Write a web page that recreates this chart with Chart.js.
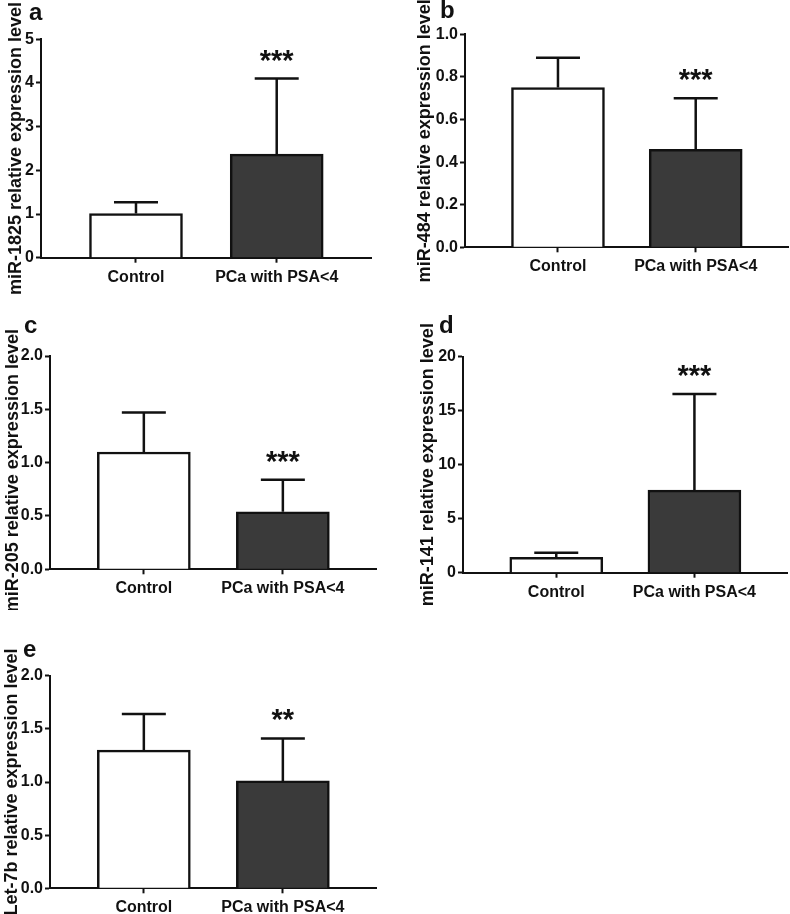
<!DOCTYPE html>
<html>
<head>
<meta charset="utf-8">
<script src="https://cdn.jsdelivr.net/npm/chart.js@4.4.0/dist/chart.umd.min.js"></script>
<style>
    html, body { margin: 0; padding: 0; background: #fff; }
    body { width: 790px; height: 914px; position: relative; overflow: hidden; }
    canvas { position: absolute; }
</style>
</head>
<body>
<script>
// Data
const categories = ['Control', 'PCa with PSA<4'];

const means1825 = [1.01, 2.37];
const sd1825 = [0.26, 1.73];
const means484 = [0.75, 0.46];
const sd484 = [0.14, 0.24];
const means205 = [1.10, 0.54];
const sd205 = [0.37, 0.30];
const means141 = [1.43, 7.65];
const sd141 = [0.42, 8.90];
const meansLet7b = [1.30, 1.01];
const sdLet7b = [0.34, 0.40];

const ticks1825 = [0, 1, 2, 3, 4, 5];
const ticks484 = [0, 0.2, 0.4, 0.6, 0.8, 1.0];
const ticks205 = [0, 0.5, 1.0, 1.5, 2.0];
const ticks141 = [0, 5, 10, 15, 20];
const ticksLet7b = [0, 0.5, 1.0, 1.5, 2.0];

const FONT = "'Liberation Sans', Arial, Helvetica, sans-serif";
const INK = '#111';

// Panels (positions are page pixels)
const panels = [
    { letter: 'a', title: 'miR-1825 relative expression level', means: means1825, sd: sd1825, ticks: ticks1825, digits: 0, stars: '***',
      box: [0, 0, 395, 300], area: [41, 39.3, 371, 257.7], letterPos: [29, 20], titleX: 16, titleShift: 0 },
    { letter: 'b', title: 'miR-484 relative expression level', means: means484, sd: sd484, ticks: ticks484, digits: 1, stars: '***',
      box: [400, 0, 390, 300], area: [465, 34.3, 788, 247.3], letterPos: [440, 18], titleX: 425, titleShift: 0 },
    { letter: 'c', title: 'miR-205 relative expression level', means: means205, sd: sd205, ticks: ticks205, digits: 1, stars: '***',
      box: [0, 300, 395, 310], area: [50, 356, 376, 569.3], letterPos: [24, 332.7], titleX: 13, titleShift: 8 },
    { letter: 'd', title: 'miR-141 relative expression level', means: means141, sd: sd141, ticks: ticks141, digits: 0, stars: '***',
      box: [400, 300, 390, 314], area: [463, 356.7, 787, 572.7], letterPos: [439, 333], titleX: 428.5, titleShift: 0 },
    { letter: 'e', title: 'Let-7b relative expression level', means: meansLet7b, sd: sdLet7b, ticks: ticksLet7b, digits: 1, stars: '**',
      box: [0, 610, 395, 304], area: [50, 675.7, 376, 888.3], letterPos: [23, 656.7], titleX: 12, titleShift: 0 }
];

// Error bars, significance stars, y title and panel letter
const decorPlugin = {
    id: 'decor',
    afterDatasetsDraw(chart, args, opts) {
        const ctx = chart.ctx;
        const y = chart.scales.y;
        const meta = chart.getDatasetMeta(0);
        ctx.save();
        ctx.strokeStyle = INK;
        ctx.lineWidth = 2.5;
        meta.data.forEach((bar, i) => {
            const topPx = y.getPixelForValue(opts.means[i] + opts.sd[i]);
            const basePx = y.getPixelForValue(opts.means[i]);
            ctx.beginPath();
            ctx.moveTo(bar.x, basePx);
            ctx.lineTo(bar.x, topPx);
            ctx.moveTo(bar.x - 22, topPx);
            ctx.lineTo(bar.x + 22, topPx);
            ctx.stroke();
            if (i === 1) {
                ctx.fillStyle = INK;
                ctx.font = 'bold 29px ' + FONT;
                ctx.textAlign = 'center';
                ctx.textBaseline = 'alphabetic';
                const m = ctx.measureText(opts.stars);
                const cy = topPx - 23;
                ctx.fillText(opts.stars, bar.x, cy + (m.actualBoundingBoxAscent - m.actualBoundingBoxDescent) / 2);
            }
        });
        ctx.restore();
    },
    afterDraw(chart, args, opts) {
        const ctx = chart.ctx;
        const area = chart.chartArea;
        ctx.save();
        ctx.fillStyle = INK;
        // y axis title
        ctx.font = 'bold 18px ' + FONT;
        const m = ctx.measureText(opts.title);
        const cy = (area.top + area.bottom) / 2 + opts.titleShift;
        ctx.translate(opts.titleX, cy);
        ctx.rotate(-Math.PI / 2);
        ctx.textAlign = 'center';
        ctx.textBaseline = 'alphabetic';
        ctx.fillText(opts.title, 0, (m.actualBoundingBoxAscent - m.actualBoundingBoxDescent) / 2);
        ctx.restore();
        // panel letter
        ctx.save();
        ctx.fillStyle = INK;
        ctx.font = 'bold 24px ' + FONT;
        ctx.textAlign = 'left';
        ctx.textBaseline = 'alphabetic';
        ctx.fillText(opts.letter, opts.letterPos[0], opts.letterPos[1]);
        ctx.restore();
    }
};

function makePanel(p) {
    const [bx, by, bw, bh] = p.box;
    const [al, at, ar, ab] = p.area;
    const canvas = document.createElement('canvas');
    canvas.width = bw;
    canvas.height = bh;
    canvas.style.left = bx + 'px';
    canvas.style.top = by + 'px';
    canvas.style.width = bw + 'px';
    canvas.style.height = bh + 'px';
    document.body.appendChild(canvas);

    const yWidth = al - bx;
    const xHeight = by + bh - ab;

    new Chart(canvas.getContext('2d'), {
        type: 'bar',
        data: {
            datasets: [{
                data: p.means.map((v, i) => ({ x: i, y: v })),
                backgroundColor: ['#ffffff', '#3a3a3a'],
                borderColor: INK,
                borderWidth: 2.5,
                barThickness: 93
            }]
        },
        options: {
            responsive: false,
            animation: false,
            devicePixelRatio: 1,
            layout: { padding: { left: 0, bottom: 0, top: at - by, right: bx + bw - ar } },
            plugins: {
                legend: { display: false },
                tooltip: { enabled: false },
                decor: {
                    means: p.means, sd: p.sd, stars: p.stars, title: p.title, letter: p.letter,
                    titleX: p.titleX - bx, titleShift: p.titleShift,
                    letterPos: [p.letterPos[0] - bx, p.letterPos[1] - by]
                }
            },
            scales: {
                x: {
                    type: 'linear',
                    offset: false,
                    min: -0.675,
                    max: 1.67,
                    afterBuildTicks: s => { s.ticks = categories.map((c, i) => ({ value: i })); },
                    afterFit: s => { s.height = xHeight; },
                    ticks: {
                        callback: v => categories[v],
                        autoSkip: false,
                        maxRotation: 0,
                        padding: 5,
                        color: INK,
                        font: { family: FONT, size: 16, weight: 'bold' }
                    },
                    grid: { offset: false, drawOnChartArea: false, drawTicks: true, tickLength: 5, tickWidth: 2, tickColor: INK },
                    border: { display: true, color: INK, width: 2 }
                },
                y: {
                    min: p.ticks[0],
                    max: p.ticks[p.ticks.length - 1],
                    afterBuildTicks: s => { s.ticks = p.ticks.map(v => ({ value: v })); },
                    afterFit: s => { s.width = yWidth; },
                    ticks: {
                        callback: v => v.toFixed(p.digits),
                        padding: 2,
                        color: INK,
                        font: { family: FONT, size: 16, weight: 'bold' }
                    },
                    grid: { drawOnChartArea: false, drawTicks: true, tickLength: 5, tickWidth: 2, tickColor: INK },
                    border: { display: true, color: INK, width: 2 }
                }
            }
        },
        plugins: [decorPlugin]
    });
}

panels.forEach(makePanel);
</script>
</body>
</html>
